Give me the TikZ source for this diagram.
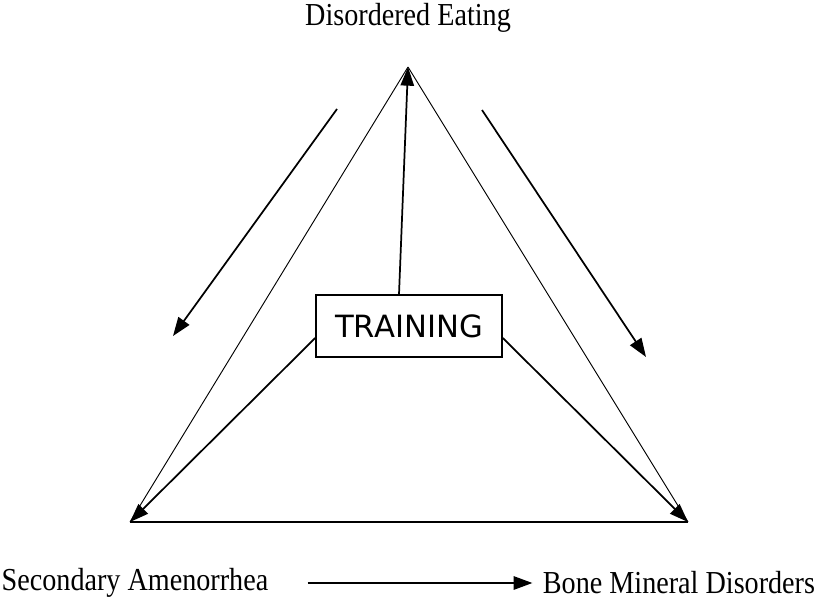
\documentclass[tikz,border=0pt]{standalone}
\usepackage{fontspec}
\setmainfont{Liberation Serif}
\newfontfamily\labelfont[FakeStretch=0.88]{Liberation Serif}
\newfontfamily\boxfont{DejaVu Sans}
\usetikzlibrary{arrows.meta,positioning,calc}
\tikzset{
  vertexlabel/.style={
    font=\labelfont\fontsize{12}{14}\selectfont, inner sep=0pt
  },
  trainbox/.style={
    rectangle, draw, line width=0.6pt,
    minimum width=69.75pt, minimum height=23.25pt,
    font=\boxfont\fontsize{11.5}{13}\selectfont, inner sep=2pt
  },
  sideline/.style={line width=0.35pt},
  linkarrow/.style={
    -{Triangle[length=7pt, width=5pt]}, line width=0.65pt
  },
}

\begin{document}
\begin{tikzpicture}[x=0.375pt, y=-0.375pt]
\useasboundingbox (0,0) rectangle (818,598);

% corners of the triangle
\coordinate (apex) at (408,67);
\coordinate (bl) at (130,522);
\coordinate (br) at (688,522);

\node[vertexlabel] (eating) at (408,18) {Disordered Eating};
\node[vertexlabel] (amen) at (135,583) {Secondary Amenorrhea};
\node[vertexlabel] (bone) at (679,583) {Bone Mineral Disorders};
\node[trainbox] (train) at (409,326) {TRAINING};

% triangle
\draw[sideline] (apex) -- (bl);
\draw[sideline] (apex) -- (br);
\draw[line width=0.55pt] (bl) -- (br);

% training to the corners
\draw[linkarrow] ([xshift=-3.75pt]train.north) -- (apex);
\draw[linkarrow] ([yshift=-4.5pt]train.west) -- (bl);
\draw[linkarrow] ([yshift=-4.5pt]train.east) -- (br);

% flow arrows
\coordinate (l1) at (337,109);
\coordinate (l2) at (173,336);
\coordinate (r1) at (482,110);
\coordinate (r2) at (646,357);
\draw[linkarrow] (l1) -- (l2);
\draw[linkarrow] (r1) -- (r2);
\draw[linkarrow, shorten <=14.5pt, shorten >=3.75pt] (amen.east) -- (bone.west);

\end{tikzpicture}
\end{document}
